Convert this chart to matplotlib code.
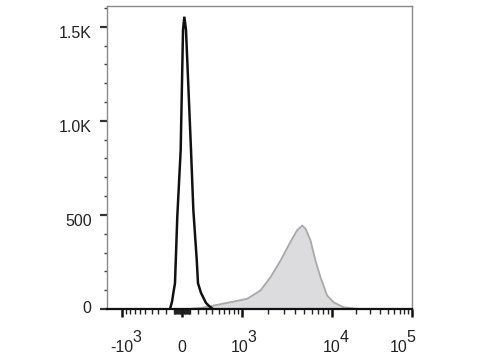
import numpy as np
import matplotlib
matplotlib.use("Agg")
import matplotlib.pyplot as plt
from matplotlib.ticker import FixedLocator, NullFormatter
from matplotlib.transforms import blended_transform_factory, offset_copy, ScaledTranslation

plt.rcParams['font.family'] = ['Liberation Sans', 'DejaVu Sans']

# ---- data (fluorescence value, event count) ----
black_x = [-146, -121, -105, -85, -57, -16, 12, 28, 48, 109, 138, 181, 197, 237, 305, 363, 409]
black_y = [0, 40, 85, 137, 490, 845, 1482, 1553, 1482, 845, 526, 260, 137, 85, 32, 11, 0]

gray_x = [36, 97, 223, 409, 715, 1136, 1621, 2101, 2711, 3489, 4134, 4684, 5090, 5770,
          6533, 7400, 8753, 10290, 13725, 20125, 29860]
gray_y = [0, 4, 8, 21, 39, 57, 101, 172, 260, 360, 422, 446, 430, 367,
          260, 172, 74, 39, 12, 4, 0]

ymajor = [0, 500, 1000, 1500]
ylabels = ['0', '500', '1.0K', '1.5K']
xmajor = [-1000, 0, 1000, 10000, 100000]
xbase = ['-10', '0', '10', '10', '10']
xexp = ['3', '', '3', '4', '5']

# ---- biexponential-like axis transform ----
C = 500.0
A = np.array([np.arcsinh(-200), np.arcsinh(-20), np.arcsinh(-2), 0.0,
              np.arcsinh(2), np.arcsinh(20), np.arcsinh(200), np.arcsinh(2000)])
P = np.array([-230, -150, -60, 0, 60, 150, 230, 310], dtype=float)

def fwd(x):
    x = np.asarray(x, dtype=float)
    return np.interp(np.arcsinh(x / C), A, P)

def inv(p):
    p = np.asarray(p, dtype=float)
    return C * np.sinh(np.interp(p, P, A))

fig = plt.figure(figsize=(4.8, 3.6), dpi=100)
ax = fig.add_axes([107 / 480, 1 - 309 / 360, (412 - 107) / 480, (309 - 6) / 360])
ax.set_xscale('function', functions=(fwd, inv))

ax.fill_between(gray_x, 0, gray_y, facecolor='#dcdcde', edgecolor='#a9a9a9',
                linewidth=1.3, zorder=2)
ax.plot(black_x, black_y, color='#111111', linewidth=1.8, zorder=3,
        solid_joinstyle='miter')

ax.set_xlim(-1500, 100000)
ax.set_ylim(0, 1610)

FS = 11.5

# y ticks
ax.yaxis.set_major_locator(FixedLocator(ymajor))
ax.set_yticklabels(ylabels, fontsize=FS, color='#222222')
ax.yaxis.set_minor_locator(FixedLocator(list(range(100, 1601, 100))))
ax.tick_params(axis='y', which='major', direction='out', length=5, width=1.6,
               color='#333333', pad=6)
ax.tick_params(axis='y', which='minor', direction='out', length=2.5, width=1.0,
               color='#444444')
for lab, txt in zip(ax.get_yticklabels(), ylabels):
    dy = 2 if txt == '0' else -5
    lab.set_transform(lab.get_transform() + ScaledTranslation(0, dy / 100, fig.dpi_scale_trans))

# x ticks
minors = []
for dec in [10, 100, 1000, 10000]:
    for k in range(2 if dec >= 1000 else 1, 10):
        v = k * dec
        if dec < 1000:
            minors += [v, -v]
        else:
            minors.append(v)
minors = [m for m in minors if -1500 < m < 100000 and m not in xmajor]
ax.xaxis.set_major_locator(FixedLocator(xmajor))
ax.xaxis.set_minor_locator(FixedLocator(minors))
ax.xaxis.set_major_formatter(NullFormatter())
ax.tick_params(axis='x', which='major', direction='out', length=6, width=1.8,
               color='#111111')
ax.tick_params(axis='x', which='minor', direction='out', length=3.5, width=1.0,
               color='#222222')

# x tick labels with full-size exponents (offsets in pixels)
trans = blended_transform_factory(ax.transData, ax.transAxes)
shifts = [0, 0, -2, 0, -13]
for v, b, e, s in zip(xmajor, xbase, xexp, shifts):
    t = offset_copy(trans, fig=fig, x=s, y=-38, units='dots')
    ax.text(v, 0, b, transform=t, ha='center', va='center', fontsize=FS,
            color='#222222')
    if e:
        half = {'-10': 11, '10': 8}[b]
        t2 = offset_copy(trans, fig=fig, x=s + half + 4, y=-29, units='dots')
        ax.text(v, 0, e, transform=t2, ha='center', va='center', fontsize=FS,
                color='#222222')

for side in ['top', 'right', 'left']:
    ax.spines[side].set_color('#8a8a8a')
    ax.spines[side].set_linewidth(1.0)
ax.spines['bottom'].set_color('#111111')
ax.spines['bottom'].set_linewidth(1.6)

fig.savefig('out.png', dpi=100)
